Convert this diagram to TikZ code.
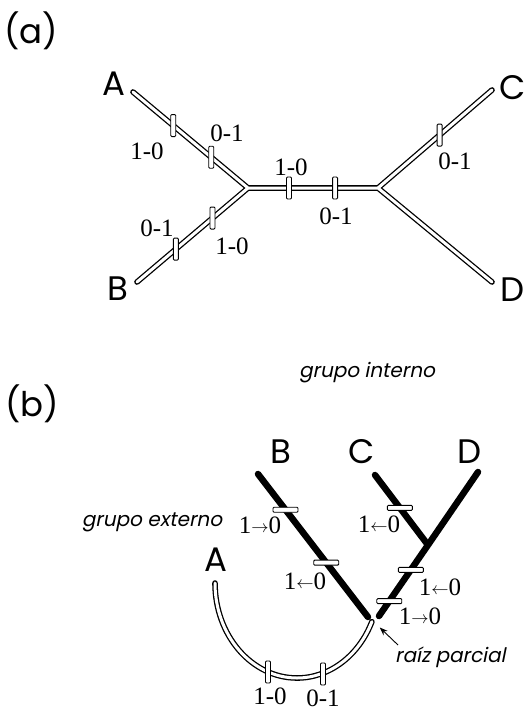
\documentclass[tikz,border=0pt]{standalone}
\usepackage{fontspec}
\setmainfont{Liberation Serif}
\newfontfamily\geo{Poppins}
\newfontfamily\geoit{Poppins}[FakeSlant=0.2]
\usetikzlibrary{arrows.meta}
\newcommand\fwd{1\raisebox{1pt}{\fontsize{16}{16}\selectfont$\rightarrow$}0}
\newcommand\bwd{1\raisebox{1pt}{\fontsize{16}{16}\selectfont$\leftarrow$}0}
\begin{document}
\begin{tikzpicture}[x=1pt,y=-1pt,
  dbl/.style={draw=black,double=white,line width=1.3pt,double distance=3pt,line cap=round,line join=round},
  blk/.style={line width=6.5pt,line cap=round},
  vtk/.style={draw,fill=white,line width=0.9pt,rounded corners=1pt,minimum width=5pt,minimum height=22pt,inner sep=0pt},
  htk/.style={draw,fill=white,line width=0.9pt,rounded corners=1pt,minimum width=25pt,minimum height=5pt,inner sep=0pt},
  lbl/.style={font=\fontsize{25}{25}\selectfont,inner sep=0pt},
  ltr/.style={font=\geo\fontsize{34}{34}\selectfont,inner sep=0pt},
  txt/.style={font=\geoit\fontsize{20}{20}\selectfont,inner sep=0pt}]
\useasboundingbox (0,0) rectangle (526,713);
% (a) unrooted tree
\node[ltr] (pa) at (31,31) {(a)};
\node[ltr] (A1) at (114,84) {A}; \node[ltr] (B1) at (118,289) {B};
\node[ltr] (C1) at (513,88) {C}; \node[ltr] (D1) at (513,290) {D};
\coordinate (ea) at (133,92); \coordinate (eb) at (137,282);
\coordinate (ec) at (492,90); \coordinate (ed) at (492,282);
\coordinate (j1) at (248,188); \coordinate (j2) at (378,188);
\draw[dbl] (ea) -- node[vtk,pos=.35] (ta1) {} node[vtk,pos=.68] (ta2) {} (j1)
  (eb) -- node[vtk,pos=.35] (tb1) {} node[vtk,pos=.68] (tb2) {} (j1)
  -- node[vtk,pos=.315] (tm1) {} node[vtk,pos=.67] (tm2) {} (j2)
  -- node[vtk,pos=.54] (tc1) {} (ec) (j2) -- (ed);
\node[lbl] (la1) at (147,151) {1-0}; \node[lbl] (la2) at (227,133) {0-1};
\node[lbl] (lb1) at (157,228) {0-1}; \node[lbl] (lb2) at (232,246) {1-0};
\node[lbl] (lm1) at (291,167) {1-0}; \node[lbl] (lm2) at (336,216) {0-1};
\node[lbl] (lc1) at (455,161) {0-1};
% (b) rooted with outgroup
\node[ltr] (pb) at (32,404) {(b)};
\node[txt] (gi) at (367,373) {grupo interno};
\node[txt] (ge) at (152,522) {grupo externo};
\node[ltr] (B2) at (281,452) {B}; \node[ltr] (C2) at (362,452) {C};
\node[ltr] (D2) at (470,452) {D}; \node[ltr] (A2) at (216,560) {A};
\coordinate (tB) at (258,474); \coordinate (tC) at (375,475); \coordinate (tD) at (478,472);
\coordinate (jcd) at (428,545); \coordinate (bEnd) at (368,617); \coordinate (dEnd) at (379,616);
\coordinate (rt) at (374,622); \coordinate (eA) at (215,583);
\draw[blk] (tB) -- node[htk,pos=.25] (tk1) {} node[htk,pos=.62] (tk2) {} (bEnd)
  (tC) -- node[htk,pos=.47] (tk3) {} (jcd)
  (tD) -- (jcd) -- node[htk,pos=.35] (tk4) {} node[htk,pos=.79] (tk5) {} (dEnd);
\draw[dbl] (eA) arc[start angle=180,end angle=24,x radius=82,y radius=95];
\node[vtk] (tk6) at (268,672) {}; \node[vtk] (tk7) at (323,674) {};
\node[lbl] (lk1) at (260,525) {\fwd}; \node[lbl] (lk2) at (305,581) {\bwd};
\node[lbl] (lk3) at (379,524) {\bwd}; \node[lbl] (lk4) at (440,587) {\bwd};
\node[lbl] (lk5) at (420,616) {\fwd};
\node[lbl] (lk6) at (270,696) {1-0}; \node[lbl] (lk7) at (323,698) {0-1};
\node[txt,anchor=west] (rp) at (395,657) {raíz parcial};
\coordinate (ar) at (398,645);
\draw[-{Stealth[length=8pt,width=6pt]},line width=0.9pt,shorten >=8pt] (ar) -- (rt);
\end{tikzpicture}
\end{document}
